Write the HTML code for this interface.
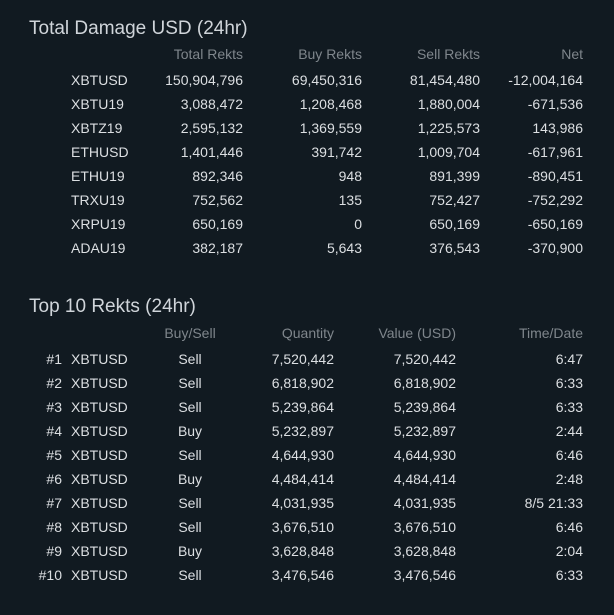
<!DOCTYPE html>
<html><head><meta charset="utf-8"><style>
body{margin:0;width:614px;height:615px;background:#111a21;font-family:"Liberation Sans",sans-serif;overflow:hidden;position:relative}
.t{position:absolute;left:29px;font-size:19px;color:#d0d5da;white-space:nowrap}
.c{position:absolute;font-size:14px;color:#dcdfe2;white-space:nowrap;line-height:16px}
.h{color:#7f868c}
.r{transform:translateX(-100%)}
.m{transform:translateX(-50%)}
</style></head><body>
<div class="t" style="top:18px">Total Damage USD (24hr)</div>
<div class="t" style="top:296px">Top 10 Rekts (24hr)</div>
<script>
const symbols1=["XBTUSD","XBTU19","XBTZ19","ETHUSD","ETHU19","TRXU19","XRPU19","ADAU19"];
const totalRekts=["150,904,796","3,088,472","2,595,132","1,401,446","892,346","752,562","650,169","382,187"];
const buyRekts=["69,450,316","1,208,468","1,369,559","391,742","948","135","0","5,643"];
const sellRekts=["81,454,480","1,880,004","1,225,573","1,009,704","891,399","752,427","650,169","376,543"];
const netVals=["-12,004,164","-671,536","143,986","-617,961","-890,451","-752,292","-650,169","-370,900"];
const ranks=["#1","#2","#3","#4","#5","#6","#7","#8","#9","#10"];
const symbols2=Array(10).fill("XBTUSD");
const sides=["Sell","Sell","Sell","Buy","Sell","Buy","Sell","Sell","Buy","Sell"];
const qty=["7,520,442","6,818,902","5,239,864","5,232,897","4,644,930","4,484,414","4,031,935","3,676,510","3,628,848","3,476,546"];
const vals=qty.slice();
const times=["6:47","6:33","6:33","2:44","6:46","2:48","8/5 21:33","6:46","2:04","6:33"];
function cell(text,x,y,cls,name){const d=document.createElement('div');d.className='c '+cls;d.style.left=x+'px';d.style.top=y+'px';d.textContent=text;


document.body.appendChild(d);}
cell("Total Rekts",243,46,"h r","header-total-rekts");cell("Buy Rekts",362,46,"h r","header-buy-rekts");cell("Sell Rekts",480,46,"h r","header-sell-rekts");cell("Net",583,46,"h r","header-net");
symbols1.forEach((s,i)=>{const y=72+i*24;cell(s,71,y,"","symbol");cell(totalRekts[i],243,y,"r","total-rekts");cell(buyRekts[i],362,y,"r","buy-rekts");cell(sellRekts[i],480,y,"r","sell-rekts");cell(netVals[i],583,y,"r","net");});
cell("Buy/Sell",190,325,"h m","header-buy-sell");cell("Quantity",334,325,"h r","header-quantity");cell("Value (USD)",456,325,"h r","header-value");cell("Time/Date",583,325,"h r","header-time");
ranks.forEach((k,i)=>{const y=351+i*24;cell(k,62,y,"r","rank");cell(symbols2[i],71,y,"","symbol");cell(sides[i],190,y,"m","side");cell(qty[i],334,y,"r","quantity");cell(vals[i],456,y,"r","value");cell(times[i],583,y,"r","time");});
</script>
</body></html>
